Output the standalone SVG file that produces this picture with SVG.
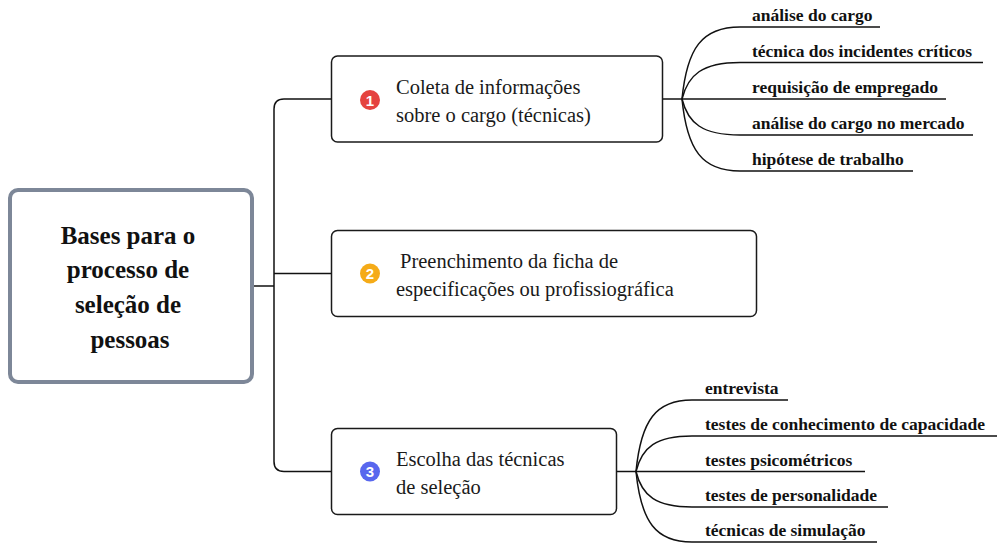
<svg xmlns="http://www.w3.org/2000/svg" width="999" height="543" viewBox="0 0 999 543">
<style>
.bg{fill:#ffffff}
.root{fill:#ffffff;stroke:#7d8798;stroke-width:4}
.box{fill:#ffffff;stroke:#1a1a1a;stroke-width:1.5}
.ln{fill:none;stroke:#111111;stroke-width:1.5}
.rt{font-weight:bold;font-size:25px;fill:#111111;text-anchor:middle}
.nt{font-size:20.5px;fill:#1a1a1a}
.lt{font-weight:bold;font-size:17.5px;fill:#111111}
.bt{font-family:'Liberation Sans',sans-serif;font-weight:bold;font-size:15px;fill:#ffffff;text-anchor:middle}
</style>
<rect class="bg" x="0" y="0" width="999" height="543"/>
<g id="connectors">
  <path class="ln" d="M252,286 H274"/>
  <path class="ln" d="M331,99 H284 Q274,99 274,109 V461.5 Q274,471.5 284,471.5 H331"/>
  <path class="ln" d="M274,273.5 H331"/>
  <path class="ln" d="M662,99 H682"/>
  <path class="ln" d="M682,99 C687,48 702,27 740,27 H880"/>
  <path class="ln" d="M682,99 C688,75 702,62.5 740,62.5 H983"/>
  <path class="ln" d="M682,99 H946"/>
  <path class="ln" d="M682,99 C688,123 702,135 740,135 H973"/>
  <path class="ln" d="M682,99 C687,150 702,171 740,171 H913"/>
  <path class="ln" d="M616,471.5 H636"/>
  <path class="ln" d="M636,471.5 C641,420 656,400 692,400 H788"/>
  <path class="ln" d="M636,471.5 C642,447 656,436 692,436 H997"/>
  <path class="ln" d="M636,471.5 H865"/>
  <path class="ln" d="M636,471.5 C642,496 656,507 692,507 H888"/>
  <path class="ln" d="M636,471.5 C641,522 656,542 692,542 H877"/>
</g>
<g id="root" font-family="'Liberation Serif', 'Times New Roman', serif">
  <rect class="root" x="10" y="190" width="242" height="192" rx="8"/>
  <text class="rt" x="128" y="244">Bases para o</text>
  <text class="rt" x="128" y="278">processo de</text>
  <text class="rt" x="128" y="313">seleção de</text>
  <text class="rt" x="130" y="348">pessoas</text>
</g>
<g id="node1" font-family="'Liberation Serif', 'Times New Roman', serif">
  <rect class="box" x="331.5" y="56" width="331" height="86" rx="6"/>
  <circle cx="370" cy="100" r="10" fill="#e5433f"/>
  <text class="bt" x="370" y="105.5">1</text>
  <text class="nt" x="396" y="94">Coleta de informações</text>
  <text class="nt" x="396" y="122">sobre o cargo (técnicas)</text>
</g>
<g id="node2" font-family="'Liberation Serif', 'Times New Roman', serif">
  <rect class="box" x="331.5" y="230.5" width="425" height="86" rx="6"/>
  <circle cx="370" cy="273.5" r="10" fill="#f5ab18"/>
  <text class="bt" x="370" y="279">2</text>
  <text class="nt" x="400" y="268">Preenchimento da ficha de</text>
  <text class="nt" x="396" y="296">especificações ou profissiográfica</text>
</g>
<g id="node3" font-family="'Liberation Serif', 'Times New Roman', serif">
  <rect class="box" x="331.5" y="428.5" width="285" height="86" rx="6"/>
  <circle cx="370" cy="471.5" r="10" fill="#5867ee"/>
  <text class="bt" x="370" y="477">3</text>
  <text class="nt" x="396" y="466">Escolha das técnicas</text>
  <text class="nt" x="396" y="494">de seleção</text>
</g>
<g id="leaves1" font-family="'Liberation Serif', 'Times New Roman', serif">
  <text class="lt" x="752" y="21">análise do cargo</text>
  <text class="lt" x="752" y="56.5">técnica dos incidentes críticos</text>
  <text class="lt" x="752" y="93">requisição de empregado</text>
  <text class="lt" x="752" y="129">análise do cargo no mercado</text>
  <text class="lt" x="752" y="165">hipótese de trabalho</text>
</g>
<g id="leaves3" font-family="'Liberation Serif', 'Times New Roman', serif">
  <text class="lt" x="705" y="394">entrevista</text>
  <text class="lt" x="705" y="430">testes de conhecimento de capacidade</text>
  <text class="lt" x="705" y="465.5">testes psicométricos</text>
  <text class="lt" x="705" y="501">testes de personalidade</text>
  <text class="lt" x="705" y="536">técnicas de simulação</text>
</g>
</svg>
